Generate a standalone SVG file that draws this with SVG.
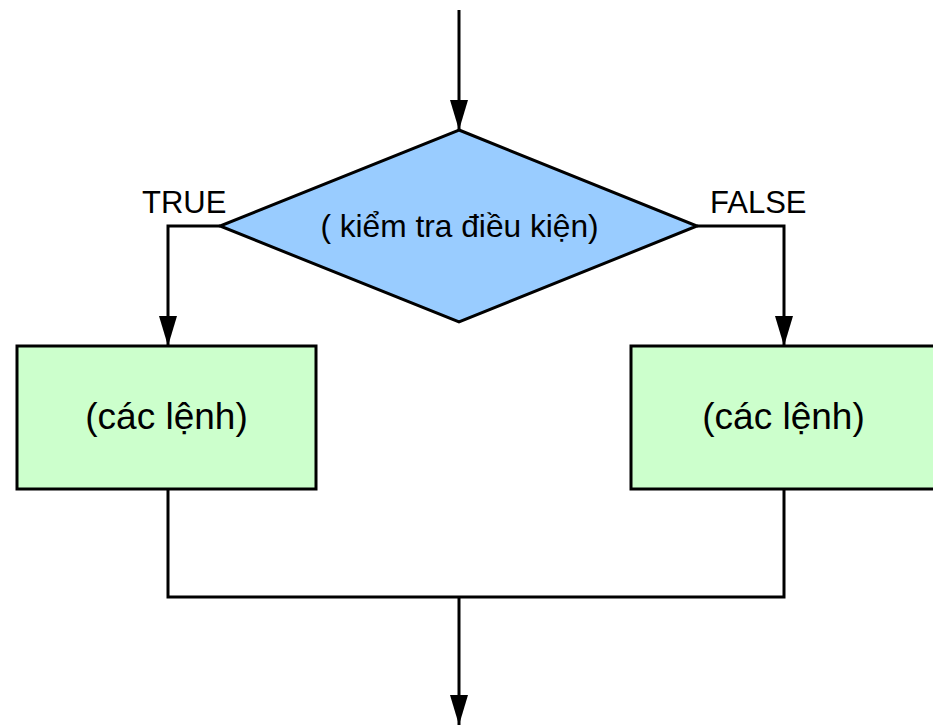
<svg xmlns="http://www.w3.org/2000/svg" width="933" height="726" viewBox="0 0 933 726">
<style>
.ln{fill:none;stroke:#000;stroke-width:3}
.sh{stroke:#000;stroke-width:3}
.t{font-family:"Liberation Sans",Arial,sans-serif;fill:#000}
</style>
<defs>
<marker id="ah" markerUnits="userSpaceOnUse" markerWidth="32" markerHeight="20" viewBox="0 0 32 20" refX="31" refY="10" orient="auto">
<path d="M1,1 L31,10 L1,19 Z" fill="#000"/>
</marker>
</defs>
<rect width="933" height="726" fill="#fff"/>
<g id="connectors">
<path class="ln" d="M459,10 V130" marker-end="url(#ah)"/>
<path class="ln" d="M220,226 H168 V346" marker-end="url(#ah)"/>
<path class="ln" d="M697,226 H784 V346" marker-end="url(#ah)"/>
<path class="ln" d="M168,490 V597 H784 V490"/>
<path class="ln" d="M459,597 V725" marker-end="url(#ah)"/>
</g>
<g id="decision">
<polygon class="sh" points="459,130 697,226 459,322 220,226" fill="#99ccff"/>
<text class="t" x="459.5" y="237" font-size="31.7" text-anchor="middle">( kiểm tra điều kiện)</text>
</g>
<g id="label-true">
<text class="t" x="142" y="213" font-size="31">TRUE</text>
</g>
<g id="label-false">
<text class="t" x="710" y="213" font-size="31">FALSE</text>
</g>
<g id="true-block">
<rect class="sh" x="17" y="346" width="299" height="143" fill="#ccffcc"/>
<text class="t" x="166.5" y="429" font-size="37" text-anchor="middle">(các lệnh)</text>
</g>
<g id="false-block">
<rect class="sh" x="631" y="346" width="310" height="143" fill="#ccffcc"/>
<text class="t" x="783.5" y="429" font-size="37" text-anchor="middle">(các lệnh)</text>
</g>
</svg>
